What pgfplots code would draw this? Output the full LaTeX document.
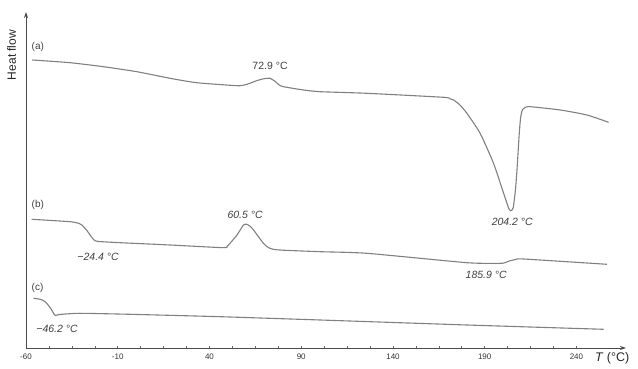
\documentclass[border=0pt]{standalone}
\usepackage{pgfplots}
\pgfplotsset{compat=1.18}
\usetikzlibrary{arrows.meta}
\usepackage{fontspec}
\setmainfont{Liberation Sans}
\begin{document}
\begin{tikzpicture}[x=1pt,y=1pt]
\begin{axis}[
  at={(0,0)}, anchor=south west,
  scale only axis, width=600pt, height=336pt,
  xmin=-60, xmax=267, ymin=21, ymax=357,
  axis lines=left,
  axis line style={draw=black!70, line width=0.9pt, -{Stealth[length=6pt,width=4pt]}},
  xtick={-60,-10,40,90,140,190,240},
  minor x tick num=3,
  ytick=\empty,
  tick align=center,
  major tick length=3pt, minor tick length=3pt,
  every tick/.style={black!60, line width=0.6pt},
  xticklabel style={font=\fontsize{8}{9}\selectfont, text=black!80, yshift=-1pt},
  /pgf/number format/assume math mode=true,
  clip=false,
]
\addplot[gray, line width=1.1pt, smooth, tension=0.35] coordinates {
(-56.6,309) (-36,306.3) (-17.8,302.3) (0.4,297.3) (18.5,290.7) (33,286.3) (54.9,283.3) (59,284) (62,285.7) (66,288.5) (69.5,290.2) (72.9,290.7) (75.5,288) (78,284) (80.3,282.3) (91.2,279) (100.3,277.3) (125.8,275.7) (167.5,271.7) (171,270.3) (173,269) (176.5,264) (180.3,255.7) (187.5,235.7) (194.8,205.7) (200.3,175.7) (203,161) (204.2,158.3) (205.5,161) (206.8,180) (207.8,205) (208.8,235) (209.6,252) (210.6,259.5) (212,261.5) (214.8,262.3) (231.2,259) (245.7,254) (257.5,246.7)
};
\addplot[gray, line width=1.1pt, smooth, tension=0.35] coordinates {
(-56.9,149.7) (-36,147.3) (-31,145.5) (-29.6,144) (-27,139) (-25.1,134) (-23,129.2) (-21,127.6) (-8.7,126.3) (18.5,124) (47.6,121.3) (49.5,122.5) (51.2,125.7) (55,134) (58.5,144) (60.3,144.7) (62,143) (64,139) (69.4,125.7) (72,121.5) (74.8,119.7) (80,118.8) (100.3,117.3) (125.8,115.7) (180.3,106.3) (198.5,105.7) (201,106.3) (203.9,108.3) (207,109.5) (211.2,110) (256.6,104.7)
};
\addplot[gray, line width=1.1pt, smooth, tension=0.35] coordinates {
(-56,70.7) (-52,69.6) (-49.6,67.3) (-47.5,63) (-46,59) (-44.8,55) (-44,53.6) (-42.5,54.2) (-40.5,54.7) (-30.6,55.7) (-3.3,54.7) (45.8,52.3) (100.3,49) (180.3,44) (254.8,39.7)
};
\node[anchor=west, font=\fontsize{10}{11}\selectfont, text=black!75] at (axis cs:-58.8,322) {(a)};
\node[anchor=west, font=\fontsize{10}{11}\selectfont, text=black!75] at (axis cs:-58.8,164) {(b)};
\node[anchor=west, font=\fontsize{10}{11}\selectfont, text=black!75] at (axis cs:-58.8,81) {(c)};
\node[font=\fontsize{10.5}{12}\selectfont, text=black!75] at (axis cs:73,303) {72.9 °C};
\node[font=\itshape\fontsize{10.5}{12}\selectfont, text=black!75] at (axis cs:205,147) {204.2 °C};
\node[font=\itshape\fontsize{10.5}{12}\selectfont, text=black!75] at (axis cs:59.4,154) {60.5 °C};
\node[font=\itshape\fontsize{10.5}{12}\selectfont, text=black!75] at (axis cs:-20.7,112) {−24.4 °C};
\node[font=\itshape\fontsize{10.5}{12}\selectfont, text=black!75] at (axis cs:190.8,94) {185.9 °C};
\node[font=\itshape\fontsize{10.5}{12}\selectfont, text=black!75] at (axis cs:-43.1,40) {−46.2 °C};
\node[rotate=90, font=\fontsize{12}{14}\selectfont, text=black!85] at (axis cs:-67.8,314) {Heat flow};
\node[font=\fontsize{12.5}{14}\selectfont, text=black!85] at (axis cs:259.5,11) {\textit{T} (°C)};
\end{axis}
\pgfresetboundingbox
\path (-26,-21) rectangle (612,348);
\end{tikzpicture}
\end{document}
